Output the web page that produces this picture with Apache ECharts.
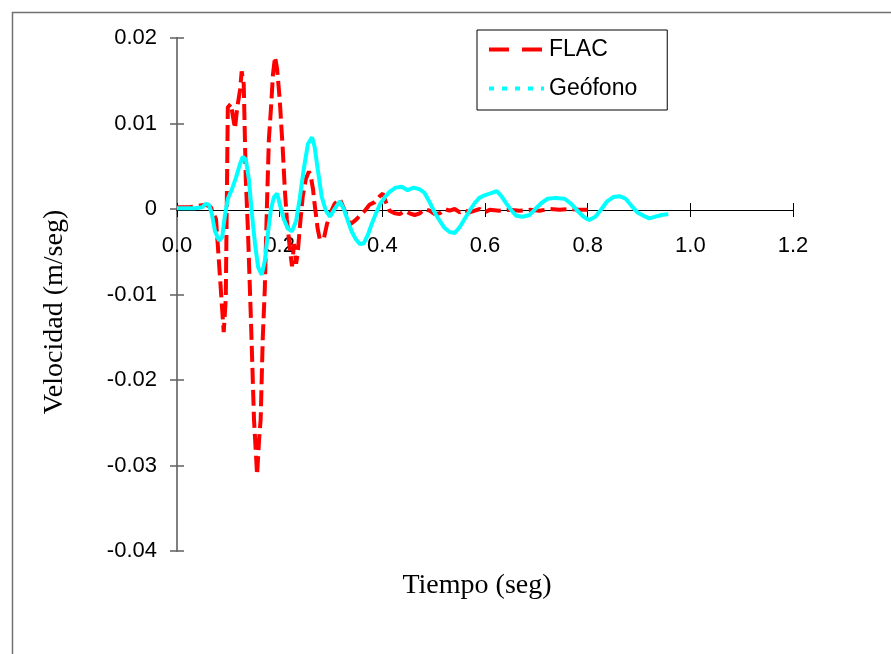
<!DOCTYPE html>
<html>
<head>
<meta charset="utf-8">
<script src="https://cdn.jsdelivr.net/npm/echarts@6/dist/echarts.min.js"></script>
<style>
  html, body { margin: 0; padding: 0; background: #fff; }
  #chart { width: 891px; height: 654px; }
</style>
</head>
<body>
<div id="chart"></div>
<script>
// FLAC (red dashed) - time in seconds, velocity in m/seg
const flacT = [0, 0.025, 0.045, 0.056, 0.066, 0.076, 0.084, 0.091, 0.095, 0.099,
  0.105, 0.109, 0.113, 0.117, 0.123, 0.126, 0.130, 0.134, 0.138, 0.144,
  0.150, 0.156, 0.160, 0.163, 0.167, 0.171, 0.175, 0.179, 0.183, 0.187,
  0.191, 0.195, 0.200, 0.206, 0.210, 0.214, 0.220, 0.224, 0.228, 0.232,
  0.235, 0.239, 0.245, 0.251, 0.257, 0.261, 0.265, 0.268, 0.274, 0.278,
  0.286, 0.292, 0.298, 0.307, 0.317, 0.327, 0.337, 0.346, 0.356, 0.366,
  0.375, 0.385, 0.395, 0.401, 0.407, 0.414, 0.424, 0.434, 0.444, 0.453,
  0.463, 0.473, 0.482, 0.492, 0.502, 0.512, 0.521, 0.531, 0.541, 0.551,
  0.560, 0.570, 0.580, 0.590, 0.599, 0.609, 0.628, 0.648, 0.667, 0.687,
  0.706, 0.726, 0.745, 0.765, 0.784, 0.800];
const flacV = [0.0002, 0.0002, 0.0004, 0.0005, 0.0002, -0.0012, -0.0082, -0.0144, -0.0105, 0.0119,
  0.0123, 0.0108, 0.0094, 0.0117, 0.0140, 0.0161, 0.0146, 0.0035, -0.0022, -0.0129,
  -0.0246, -0.0311, -0.0269, -0.0246, -0.0152, -0.0094, 0.0000, 0.0082, 0.0117, 0.0158,
  0.0178, 0.0164, 0.0129, 0.0070, 0.0023, -0.0012, -0.0047, -0.0067, -0.0041, -0.0064,
  -0.0053, -0.0023, 0.0015, 0.0035, 0.0044, 0.0037, 0.0023, 0.0006, -0.0023, -0.0035,
  -0.0035, -0.0018, -0.0006, 0.0006, 0.0012, -0.0002, -0.0018, -0.0014, -0.0008, -0.0002,
  0.0005, 0.0008, 0.0015, 0.0018, 0.0008, -0.0002, -0.0005, -0.0006, -0.0002, -0.0005,
  -0.0007, -0.0005, 0.0000, -0.0002, -0.0006, -0.0005, 0.0000, -0.0002, 0.0000, -0.0004,
  -0.0001, -0.0004, -0.0002, 0.0000, -0.0004, -0.0001, -0.0002, -0.0001, -0.0002, -0.0001,
  -0.0002, 0.0000, -0.0001, 0.0000, -0.0001, -0.0001];

// Geófono (cyan)
const geoT = [0, 0.035, 0.049, 0.056, 0.062, 0.068, 0.074, 0.082, 0.088, 0.093,
  0.099, 0.107, 0.115, 0.123, 0.128, 0.134, 0.140, 0.146, 0.152, 0.158,
  0.165, 0.171, 0.177, 0.183, 0.189, 0.195, 0.200, 0.208, 0.216, 0.224,
  0.232, 0.239, 0.247, 0.255, 0.263, 0.268, 0.274, 0.282, 0.290, 0.298,
  0.307, 0.317, 0.325, 0.333, 0.340, 0.348, 0.356, 0.364, 0.372, 0.379,
  0.387, 0.395, 0.405, 0.414, 0.426, 0.438, 0.449, 0.461, 0.473, 0.482,
  0.492, 0.502, 0.512, 0.521, 0.531, 0.541, 0.551, 0.560, 0.570, 0.580,
  0.589, 0.599, 0.609, 0.623, 0.632, 0.642, 0.652, 0.661, 0.673, 0.687,
  0.698, 0.710, 0.722, 0.737, 0.755, 0.768, 0.780, 0.792, 0.803, 0.815,
  0.827, 0.838, 0.850, 0.862, 0.874, 0.885, 0.897, 0.909, 0.920, 0.932,
  0.944, 0.957];
const geoV = [0.0001, 0.0001, 0.0002, 0.0006, 0.0005, -0.0006, -0.0026, -0.0037, -0.0033, -0.0009,
  0.0012, 0.0023, 0.0037, 0.0053, 0.0061, 0.0058, 0.0035, -0.0006, -0.0041, -0.0068,
  -0.0077, -0.0061, -0.0029, 0.0000, 0.0014, 0.0018, 0.0006, -0.0012, -0.0023, -0.0026,
  -0.0014, 0.0012, 0.0047, 0.0076, 0.0084, 0.0073, 0.0047, 0.0014, -0.0002, -0.0009,
  0.0000, 0.0009, 0.0000, -0.0014, -0.0026, -0.0035, -0.0041, -0.0040, -0.0030, -0.0018,
  -0.0006, 0.0005, 0.0014, 0.0020, 0.0025, 0.0026, 0.0022, 0.0025, 0.0023, 0.0019,
  0.0008, -0.0004, -0.0014, -0.0022, -0.0027, -0.0028, -0.0021, -0.0012, -0.0002, 0.0007,
  0.0013, 0.0016, 0.0018, 0.0021, 0.0015, 0.0006, -0.0002, -0.0008, -0.0009, -0.0007,
  0.0000, 0.0007, 0.0012, 0.0013, 0.0012, 0.0006, -0.0002, -0.0009, -0.0013, -0.0009,
  0.0000, 0.0009, 0.0014, 0.0015, 0.0012, 0.0004, -0.0004, -0.0008, -0.0011, -0.0009,
  -0.0007, -0.0006];

const SANS = 'Liberation Sans, Arial, sans-serif';
const SERIF = 'Liberation Serif, Times New Roman, serif';

function zip(xs, ys) {
  return xs.map(function (x, i) { return [x, ys[i]]; });
}

// the time axis sits on velocity 0: grid bottom is at y=551, zero line at y=210
const X_AXIS_OFFSET = -341;

var chart = echarts.init(document.getElementById('chart'));
chart.setOption({
  animation: false,
  backgroundColor: '#fff',
  grid: { left: 177, top: 38, right: 98, bottom: 103 },
  legend: {
    orient: 'vertical',
    left: 477,
    top: 30,
    padding: [8, 30, 10, 10],
    itemWidth: 55,
    itemHeight: 14,
    itemGap: 16,
    borderColor: '#000',
    borderWidth: 1,
    textStyle: { fontFamily: SANS, fontSize: 23, color: '#000' },
    data: [
      { name: 'FLAC', itemStyle: { opacity: 0 }, lineStyle: { type: [20, 13], width: 4 } },
      { name: 'Geófono', itemStyle: { opacity: 0 }, lineStyle: { type: [5, 8], width: 4 } }
    ]
  },
  xAxis: [
    {
      type: 'value', min: 0, max: 1.2, interval: 0.2, position: 'bottom', offset: X_AXIS_OFFSET,
      axisLine: { onZero: false, lineStyle: { color: '#000', width: 1 } },
      axisTick: { length: 7, lineStyle: { color: '#000' } },
      axisLabel: {
        margin: 25, color: '#000', fontFamily: SANS, fontSize: 22,
        formatter: function (v) { return v.toFixed(1); }
      },
      splitLine: { show: false }
    },
    {
      type: 'value', min: 0, max: 1.2, interval: 0.2, position: 'bottom', offset: X_AXIS_OFFSET,
      axisLine: { onZero: false, lineStyle: { color: '#000', width: 1 } },
      axisTick: { inside: true, length: 7, lineStyle: { color: '#000' } },
      axisLabel: { show: false },
      splitLine: { show: false }
    }
  ],
  yAxis: [
    {
      type: 'value', min: -0.04, max: 0.02, interval: 0.01,
      axisLine: { show: true, onZero: false, lineStyle: { color: '#808080', width: 2 } },
      axisTick: { show: true, length: 7, lineStyle: { color: '#606060', width: 1.5 } },
      axisLabel: {
        margin: 20, color: '#000', fontFamily: SANS, fontSize: 22,
        formatter: function (v) { return Math.abs(v) < 1e-9 ? '0' : v.toFixed(2); }
      },
      splitLine: { show: false }
    },
    {
      type: 'value', min: -0.04, max: 0.02, interval: 0.01, position: 'left',
      axisLine: { show: true, onZero: false, lineStyle: { color: '#808080', width: 2 } },
      axisTick: { show: true, inside: true, length: 7, lineStyle: { color: '#606060', width: 1.5 } },
      axisLabel: { show: false },
      splitLine: { show: false }
    }
  ],
  series: [
    {
      name: 'FLAC',
      type: 'line',
      xAxisIndex: 0,
      yAxisIndex: 0,
      symbol: 'none',
      itemStyle: { color: '#ff0000' },
      lineStyle: { color: '#ff0000', width: 4, type: [16, 6] },
      data: zip(flacT, flacV)
    },
    {
      name: 'Geófono',
      type: 'line',
      xAxisIndex: 0,
      yAxisIndex: 0,
      symbol: 'none',
      itemStyle: { color: '#00ffff' },
      lineStyle: { color: '#00ffff', width: 4, type: 'solid' },
      data: zip(geoT, geoV)
    }
  ],
  graphic: [
    {
      type: 'rect', left: 10, top: 10, silent: true,
      shape: { width: 1000, height: 1000 },
      style: { fill: 'none', stroke: '#707070', lineWidth: 1.5 }
    },
    {
      type: 'text', x: 55, y: 312, rotation: Math.PI / 2, silent: true,
      style: {
        text: 'Velocidad (m/seg)', fontFamily: SERIF, fontSize: 28, fill: '#000',
        align: 'center', verticalAlign: 'middle'
      }
    },
    {
      type: 'text', x: 477, y: 586, silent: true,
      style: {
        text: 'Tiempo (seg)', fontFamily: SERIF, fontSize: 28, fill: '#000',
        align: 'center', verticalAlign: 'middle'
      }
    }
  ]
});
</script>
</body>
</html>
